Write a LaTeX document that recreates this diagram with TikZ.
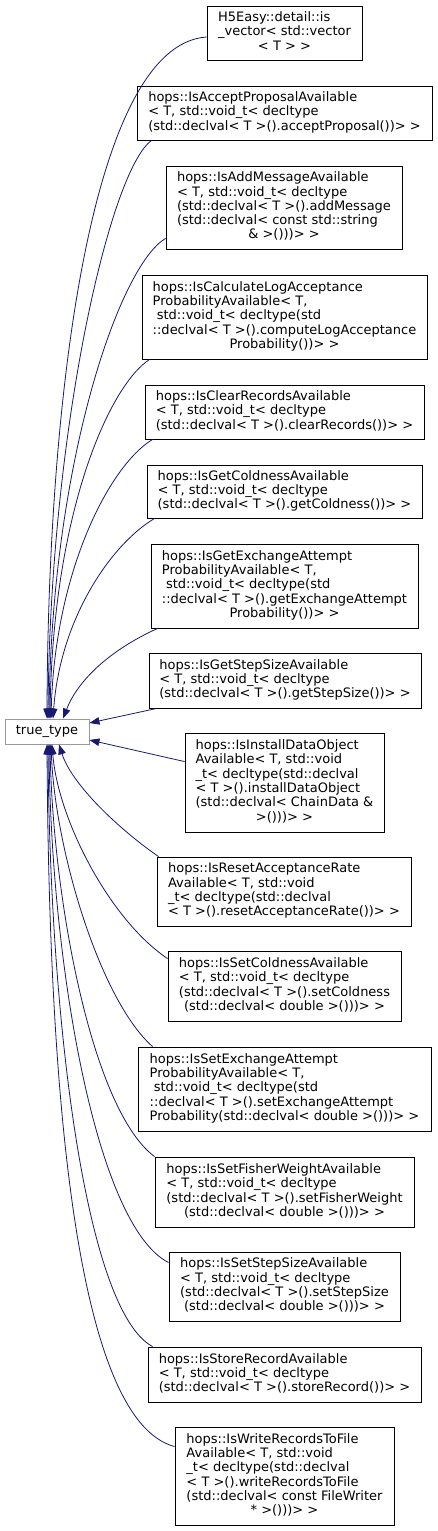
\documentclass[tikz,border=0pt]{standalone}
\usepackage{fontspec}
\setmainfont{DejaVu Sans}
\usetikzlibrary{arrows.meta}
\definecolor{edgeblue}{RGB}{25,25,112}
\definecolor{ttgray}{RGB}{153,153,153}
\newcommand{\lc}[1]{\multicolumn{1}{@{}c@{}}{#1}}
\newcommand{\bx}[6]{%
  \node[cls, minimum width={#4-#2}, minimum height={#5-#3}] (#1) at ({(#2+#4)/2},{(#3+#5)/2})
  {\begin{tabular}{@{}l@{}}#6\end{tabular}};}
\begin{document}
\begin{tikzpicture}[x=1pt,y=-1pt,
  cls/.style={draw=black, line width=0.9pt, inner sep=0pt, font=\fontsize{13}{14.3}\selectfont, text=black},
  edge/.style={draw=edgeblue, line width=0.8pt, -{Triangle[length=10pt,width=7.5pt]}}]
\useasboundingbox (0,0) rectangle (437,1531);
\fill[white] (0,0) rectangle (437,1531);

\node[cls, draw=ttgray, minimum width=84pt, minimum height=25pt] (tt) at (47,731.5) {true\_type};

\bx{b1}{207}{6}{362}{60}{H5Easy::detail::is\\\_vector< std::vector\\\lc{< T > >}}
\bx{b2}{137}{86}{432}{140}{hops::IsAcceptProposalAvailable\\< T, std::void\_t< decltype\\(std::declval< T >().acceptProposal())> >}
\bx{b3}{166}{166}{402}{249}{hops::IsAddMessageAvailable\\< T, std::void\_t< decltype\\(std::declval< T >().addMessage\\(std::declval< const std::string\\\lc{\& >()))> >}}
\bx{b4}{142}{275}{427}{359}{hops::IsCalculateLogAcceptance\\ProbabilityAvailable< T,\\\ std::void\_t< decltype(std\\::declval< T >().computeLogAcceptance\\\lc{Probability())> >}}
\bx{b5}{145}{385}{424}{439}{hops::IsClearRecordsAvailable\\< T, std::void\_t< decltype\\(std::declval< T >().clearRecords())> >}
\bx{b6}{147}{465}{422}{518}{hops::IsGetColdnessAvailable\\< T, std::void\_t< decltype\\(std::declval< T >().getColdness())> >}
\bx{b7}{151}{544}{418}{628}{hops::IsGetExchangeAttempt\\ProbabilityAvailable< T,\\\ std::void\_t< decltype(std\\::declval< T >().getExchangeAttempt\\\lc{Probability())> >}}
\bx{b8}{149}{653}{421}{708}{hops::IsGetStepSizeAvailable\\< T, std::void\_t< decltype\\(std::declval< T >().getStepSize())> >}
\bx{b10}{185}{733}{384}{832}{hops::IsInstallDataObject\\Available< T, std::void\\\_t< decltype(std::declval\\< T >().installDataObject\\(std::declval< ChainData \&\\\lc{>()))> >}}
\bx{b11}{157}{857}{411}{926}{hops::IsResetAcceptanceRate\\Available< T, std::void\\\_t< decltype(std::declval\\< T >().resetAcceptanceRate())> >}
\bx{b12}{168}{951}{401}{1021}{hops::IsSetColdnessAvailable\\< T, std::void\_t< decltype\\(std::declval< T >().setColdness\\\lc{(std::declval< double >()))> >}}
\bx{b13}{138}{1047}{431}{1131}{hops::IsSetExchangeAttempt\\ProbabilityAvailable< T,\\\ std::void\_t< decltype(std\\::declval< T >().setExchangeAttempt\\Probability(std::declval< double >()))> >}
\bx{b14}{155}{1157}{414}{1227}{hops::IsSetFisherWeightAvailable\\< T, std::void\_t< decltype\\(std::declval< T >().setFisherWeight\\\lc{(std::declval< double >()))> >}}
\bx{b15}{169}{1252}{400}{1321}{hops::IsSetStepSizeAvailable\\< T, std::void\_t< decltype\\(std::declval< T >().setStepSize\\\lc{(std::declval< double >()))> >}}
\bx{b16}{148}{1347}{421}{1402}{hops::IsStoreRecordAvailable\\< T, std::void\_t< decltype\\(std::declval< T >().storeRecord())> >}
\bx{b17}{175}{1427}{394}{1525}{hops::IsWriteRecordsToFile\\Available< T, std::void\\\_t< decltype(std::declval\\< T >().writeRecordsToFile\\(std::declval< const FileWriter\\\lc{* >()))> >}}

% edges above
\draw[edge] ([yshift=-4pt]b1.west) .. controls (90,45) and (48,400) .. ([xshift=0pt]tt.north);
\draw[edge] ([xshift=15pt]b2.south west) .. controls (110,170) and (50,430) .. ([xshift=1pt]tt.north);
\draw[edge] ([yshift=11pt]b3.south west) .. controls (120,265) and (52,460) .. ([xshift=2pt]tt.north);
\draw[edge] ([xshift=8pt]b4.south west) .. controls (110,385) and (53,510) .. ([xshift=3pt]tt.north);
\draw[edge] ([xshift=8pt]b5.south west) .. controls (110,465) and (55,570) .. ([xshift=4pt]tt.north);
\draw[edge] ([xshift=8pt]b6.south west) .. controls (110,545) and (60,620) .. ([xshift=6pt]tt.north);
\draw[edge] ([xshift=7pt]b7.south west) .. controls (110,650) and (78,680) .. ([xshift=16pt]tt.north);
\draw[edge] ([xshift=8pt]b8.south west) -- ([yshift=8.5pt]tt.east);
% edges below
\draw[edge] ([yshift=-29pt]b10.north west) -- ([yshift=-8.5pt]tt.east);
\draw[edge] ([xshift=2pt]b11.north west) .. controls (120,830) and (72,785) .. ([xshift=12pt]tt.south);
\draw[edge] ([yshift=-8pt]b12.north west) .. controls (110,920) and (58,820) .. ([xshift=5pt]tt.south);
\draw[edge] ([xshift=15pt]b13.north west) .. controls (100,1000) and (55,850) .. ([xshift=4pt]tt.south);
\draw[edge] (b14.north west) .. controls (92,1110) and (53,900) .. ([xshift=3pt]tt.south);
\draw[edge] ([yshift=-11pt]b15.north west) .. controls (95,1225) and (51,960) .. ([xshift=2pt]tt.south);
\draw[edge] ([xshift=5pt]b16.north west) .. controls (85,1310) and (50,1020) .. ([xshift=1pt]tt.south);
\draw[edge] ([yshift=-20pt]b17.north west) .. controls (75,1420) and (49,1090) .. ([xshift=0pt]tt.south);
\end{tikzpicture}
\end{document}
